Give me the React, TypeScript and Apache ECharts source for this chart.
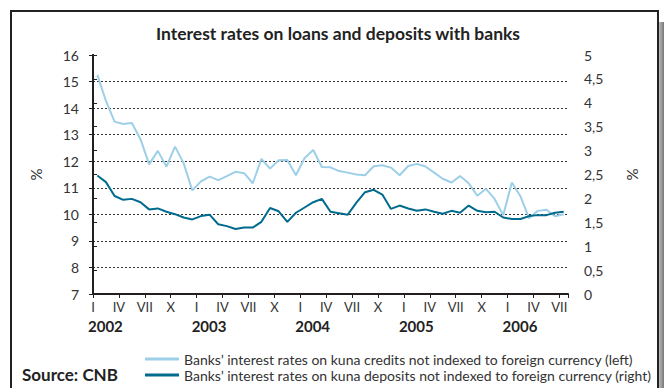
import React, { useEffect, useRef } from "react";
import * as echarts from "echarts";

const years = ["2002", "2003", "2004", "2005", "2006"];
const monthTicks = ["I", "IV", "VII", "X"];
const seriesNames = [
  "Banks\u2019 interest rates on kuna credits not indexed to foreign currency (left)",
  "Banks\u2019 interest rates on kuna deposits not indexed to foreign currency (right)",
];
// Monthly, Jan 2002 - Jul 2006
const credits = [
  15.25, 14.27, 13.49, 13.4, 13.44, 12.83, 11.88, 12.39, 11.8, 12.55, 11.92, 10.9,
  11.24, 11.42, 11.29, 11.44, 11.6, 11.55, 11.17, 12.09, 11.72, 12.04, 12.05, 11.47,
  12.12, 12.42, 11.78, 11.77, 11.63, 11.57, 11.5, 11.47, 11.81, 11.85, 11.76, 11.47,
  11.82, 11.9, 11.8, 11.57, 11.34, 11.2, 11.44, 11.17, 10.7, 10.96, 10.58, 9.97,
  11.2, 10.68, 9.85, 10.13, 10.17, 9.93, 10.0,
];
const deposits = [
  2.48, 2.34, 2.05, 1.97, 1.99, 1.92, 1.77, 1.79, 1.72, 1.67, 1.6, 1.56,
  1.63, 1.66, 1.46, 1.42, 1.36, 1.39, 1.39, 1.51, 1.8, 1.73, 1.51, 1.7,
  1.81, 1.92, 1.99, 1.72, 1.69, 1.66, 1.91, 2.13, 2.18, 2.08, 1.78, 1.85,
  1.79, 1.74, 1.77, 1.72, 1.68, 1.74, 1.7, 1.85, 1.74, 1.71, 1.72, 1.6,
  1.57, 1.57, 1.63, 1.65, 1.65, 1.7, 1.72,
];

const FONT = "Lato, 'Open Sans', sans-serif";
const TXT = "#333";
const AX = "#231f20";

export default function App() {
  const ref = useRef<HTMLDivElement>(null);
  useEffect(() => {
    if (!ref.current) return;
    const chart = echarts.init(ref.current, null, { renderer: "svg" });
    const nMonths = credits.length;
    const toPts = (arr: number[]) => arr.map((v, i) => [i + 0.5, v]);
    chart.setOption({
      animation: false,
      textStyle: { fontFamily: FONT },
      title: {
        text: "Interest rates on loans and deposits with banks",
        left: 333,
        top: 19,
        textAlign: "center",
        textStyle: { fontFamily: FONT, fontSize: 17.5, fontWeight: "bold", color: "#222" },
      },
      graphic: [
        {
          type: "rect",
          shape: { x: 11, y: 11, width: 647, height: 400 },
          style: { fill: "none", stroke: "#222", lineWidth: 2 },
          silent: true,
        },
        {
          type: "rect",
          shape: { x: 659, y: 22, width: 5, height: 380 },
          style: {
            fill: new echarts.graphic.LinearGradient(0, 0, 1, 0, [
              { offset: 0, color: "#bbb" },
              { offset: 1, color: "#777" },
            ]),
          },
          silent: true,
        },
        {
          type: "text",
          left: 22,
          top: 366,
          style: { text: "Source: CNB", font: `bold 17px ${FONT}`, fill: "#222" },
        },
      ],
      legend: {
        orient: "vertical",
        left: 140,
        top: 347,
        itemWidth: 34,
        itemHeight: 3,
        itemGap: 2,
        icon: "rect",
        textStyle: { fontFamily: FONT, fontSize: 14, color: TXT },
        data: seriesNames,
      },
      grid: { left: 93, right: 96, top: 55, bottom: 94 },
      xAxis: [
        {
          type: "value",
          min: 0,
          max: nMonths,
          interval: 3,
          axisLine: { show: true, lineStyle: { color: AX, width: 2 } },
          axisTick: { show: true, length: 4, lineStyle: { color: AX, width: 1 } },
          splitLine: { show: false },
          axisLabel: {
            margin: 6,
            fontSize: 13,
            color: TXT,
            showMaxLabel: true,
            formatter: (v: number) =>
              v % 3 === 0 ? monthTicks[(v / 3) % 4] : "",
          },
        },
        {
          type: "value",
          min: 0,
          max: nMonths,
          interval: 12,
          position: "bottom",
          offset: 18,
          axisLine: { show: false },
          axisTick: { show: false },
          splitLine: { show: false },
          axisLabel: {
            margin: 6,
            fontSize: 15,
            fontWeight: "bold",
            color: "#222",
            align: "left",
            padding: [0, 0, 0, -5],
            showMaxLabel: false,
            formatter: (v: number) =>
              v % 12 === 0 && years[v / 12] ? years[v / 12] : "",
          },
        },
      ],
      yAxis: [
        {
          type: "value",
          min: 7,
          max: 16,
          interval: 1,
          name: "%",
          nameLocation: "middle",
          nameRotate: 90,
          nameGap: 50,
          nameTextStyle: { fontSize: 15, color: TXT },
          axisLine: { show: true, lineStyle: { color: AX, width: 2 } },
          axisTick: { show: true, length: 4, lineStyle: { color: AX } },
          axisLabel: { margin: 14, fontSize: 14, color: TXT },
          splitLine: {
            show: true,
            showMinLine: false,
            showMaxLine: false,
            lineStyle: { color: "#333", type: [2, 2], width: 1 },
          },
        },
        {
          type: "value",
          min: 0,
          max: 5,
          interval: 0.5,
          position: "right",
          name: "%",
          nameLocation: "middle",
          nameRotate: 90,
          nameGap: 56,
          nameTextStyle: { fontSize: 15, color: TXT },
          axisLine: { show: true, lineStyle: { color: AX, width: 2 } },
          axisTick: { show: true, length: 4, lineStyle: { color: AX } },
          axisLabel: {
            margin: 16,
            fontSize: 14,
            color: TXT,
            formatter: (v: number) => String(v).replace(".", ","),
          },
          splitLine: { show: false },
        },
      ],
      series: [
        {
          name: seriesNames[0],
          type: "line",
          xAxisIndex: 0,
          yAxisIndex: 0,
          data: toPts(credits),
          showSymbol: false,
          symbol: "none",
          lineStyle: { color: "#9dd0e8", width: 2 },
          itemStyle: { color: "#9dd0e8" },
        },
        {
          name: seriesNames[1],
          type: "line",
          xAxisIndex: 0,
          yAxisIndex: 1,
          data: toPts(deposits),
          showSymbol: false,
          symbol: "none",
          lineStyle: { color: "#006b8e", width: 2 },
          itemStyle: { color: "#006b8e" },
        },
      ],
    });
    return () => chart.dispose();
  }, []);
  return (
    <div
      ref={ref}
      style={{ position: "fixed", left: 0, top: 0, width: 664, height: 388, background: "#fff" }}
    />
  );
}
